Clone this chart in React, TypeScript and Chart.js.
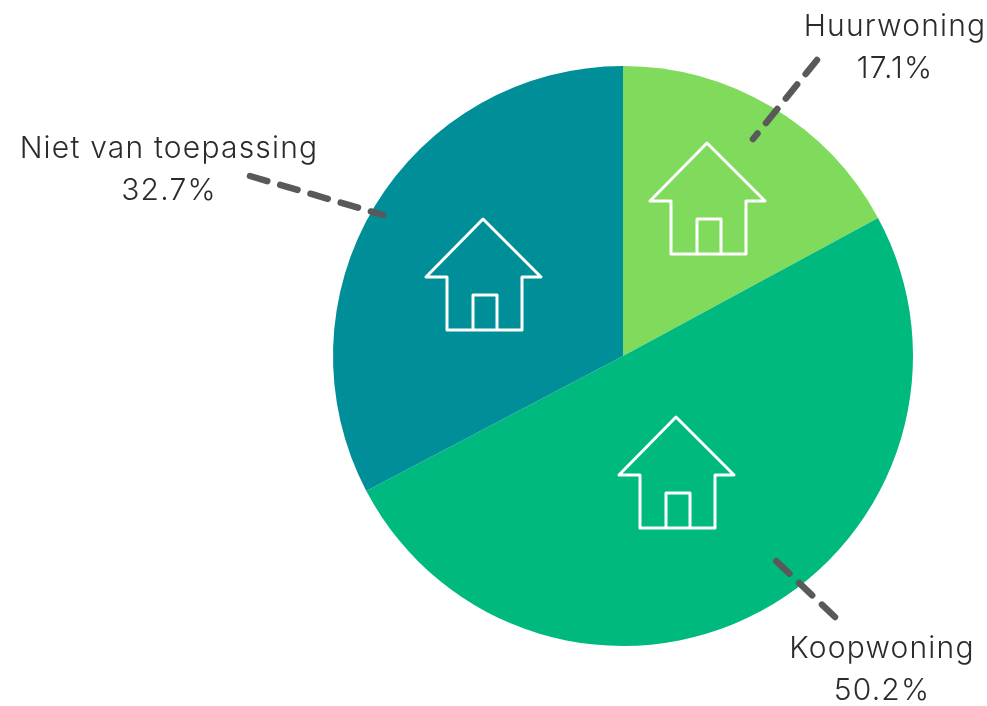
import React, { useEffect, useRef } from "react";
import { Chart, registerables } from "chart.js";

Chart.register(...registerables);

const categories = ["Huurwoning", "Koopwoning", "Niet van toepassing"];
const shares = [17.1, 50.2, 32.7];
const sliceColors = ["#80DA5B", "#00B97F", "#008F99"];

// Annotation layout, in pixels relative to the pie centre.
const houseOffsets = [[84, -213], [-140, -137], [53, 61]];
const leaderStarts = [[194, -296], [212, 261], [-373, -180]];
const leaderEnds = [[130, -217], [150, 202], [-240, -141]];
const labelOffsets = [[272, -329], [259, 293], [-454, -207]];
const labelGap = 42;

const houseAndLeaders = {
  id: "houseAndLeaders",
  afterDatasetsDraw(chart: any) {
    const { ctx } = chart;
    const arcs = chart.getDatasetMeta(0).data;
    const cx = arcs[0].x;
    const cy = arcs[0].y;
    ctx.save();

    categories.forEach((name, i) => {
      const [hx, hy] = houseOffsets[i];
      const x = cx + hx;
      const y = cy + hy;
      ctx.strokeStyle = "#FFFFFF";
      ctx.lineWidth = 3;
      ctx.lineJoin = "round";
      ctx.lineCap = "butt";
      ctx.setLineDash([]);
      ctx.beginPath();
      ctx.moveTo(x - 36, y + 111);
      ctx.lineTo(x - 36, y + 58);
      ctx.lineTo(x - 57, y + 58);
      ctx.lineTo(x, y);
      ctx.lineTo(x + 58, y + 58);
      ctx.lineTo(x + 39, y + 58);
      ctx.lineTo(x + 39, y + 111);
      ctx.closePath();
      ctx.moveTo(x - 10, y + 111);
      ctx.lineTo(x - 10, y + 76);
      ctx.lineTo(x + 14, y + 76);
      ctx.lineTo(x + 14, y + 111);
      ctx.stroke();

      const [sx, sy] = leaderStarts[i];
      const [ex, ey] = leaderEnds[i];
      ctx.strokeStyle = "#595959";
      ctx.lineWidth = 6.5;
      ctx.lineCap = "round";
      ctx.setLineDash([18, 13.5]);
      ctx.beginPath();
      ctx.moveTo(cx + sx, cy + sy);
      ctx.lineTo(cx + ex, cy + ey);
      ctx.stroke();
      ctx.setLineDash([]);

      const [lx, ly] = labelOffsets[i];
      ctx.fillStyle = "#2B2B2B";
      ctx.font = '300 30px Inter, "Noto Sans", sans-serif';
      ctx.textAlign = "center";
      ctx.textBaseline = "middle";
      (ctx as any).letterSpacing = "1.2px";
      ctx.fillText(name, cx + lx, cy + ly);
      ctx.fillText(`${shares[i].toFixed(1)}%`, cx + lx, cy + ly + labelGap);
    });
    ctx.restore();
  },
};

export default function App() {
  const ref = useRef<HTMLCanvasElement>(null);

  useEffect(() => {
    document.body.style.margin = "0";
    document.body.style.background = "#FFFFFF";
    const chart = new Chart(ref.current as HTMLCanvasElement, {
      type: "pie",
      data: {
        labels: categories,
        datasets: [{ data: shares, backgroundColor: sliceColors, borderWidth: 0 }],
      },
      options: {
        animation: false,
        responsive: false,
        layout: { padding: { left: 333, right: 74, top: 66, bottom: 60 } },
        plugins: { legend: { display: false }, tooltip: { enabled: false } },
      },
      plugins: [houseAndLeaders],
    } as any);
    return () => chart.destroy();
  }, []);

  return <canvas ref={ref} width={987} height={706} style={{ display: "block" }} />;
}
